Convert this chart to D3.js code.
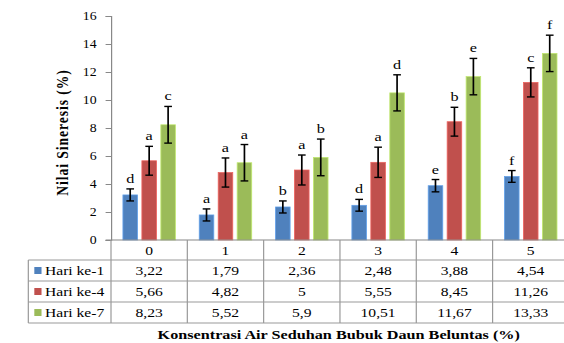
<!DOCTYPE html>
<html>
<head>
<meta charset="utf-8">
<script src="https://cdn.jsdelivr.net/npm/d3@7"></script>
<style>
  html, body { margin: 0; padding: 0; background: #fff; }
  svg { display: block; }
  text { font-family: "Liberation Serif", "Times New Roman", serif; fill: #000; }
</style>
</head>
<body>
<div id="chart"></div>
<script>
// chart values
var categories = ["0", "1", "2", "3", "4", "5"];
var seriesNames = ["Hari ke-1", "Hari ke-4", "Hari ke-7"];
var hari1 = [3.22, 1.79, 2.36, 2.48, 3.88, 4.54];
var hari4 = [5.66, 4.82, 5, 5.55, 8.45, 11.26];
var hari7 = [8.23, 5.52, 5.9, 10.51, 11.67, 13.33];
var err1 = [0.43, 0.43, 0.43, 0.42, 0.44, 0.42];
var err4 = [1.03, 1.04, 1.07, 1.08, 1.03, 1.04];
var err7 = [1.31, 1.3, 1.31, 1.29, 1.3, 1.3];
var letters1 = ["d", "a", "b", "d", "e", "f"];
var letters4 = ["a", "a", "a", "a", "b", "c"];
var letters7 = ["c", "a", "b", "d", "e", "f"];
var yTicks = [0, 2, 4, 6, 8, 10, 12, 14, 16];
var colors = ["#4F81BD", "#C0504D", "#9BBB59"];

var seriesValues = [hari1, hari4, hari7];
var seriesErr = [err1, err4, err7];
var seriesLetters = [letters1, letters4, letters7];

// the original picture is stretched sideways, so draw narrow and scale x
var svgWidth = 564;
var svgHeight = 343;
var stretch = 1.2;
var innerW = svgWidth / stretch;

var axisX = 92.5;
var bandW = 63.6;
var plotTop = 16;
var plotBottom = 240;
var rowH = 21;

var svg = d3.select("#chart")
  .append("svg")
    .attr("width", svgWidth)
    .attr("height", svgHeight)
    .attr("viewBox", `0 0 ${innerW} ${svgHeight}`)
    .attr("preserveAspectRatio", "none");

var x0 = d3.scaleBand()
  .domain(categories)
  .range([axisX, axisX + bandW * categories.length])
  .padding(0);

var groupW = 43.7;
var x1 = d3.scaleBand()
  .domain(seriesNames)
  .range([(bandW - groupW) / 2, (bandW + groupW) / 2])
  .paddingInner(0.234)
  .paddingOuter(0);

var y = d3.scaleLinear()
  .domain([0, 16])
  .range([plotBottom, plotTop]);

// rows of [category, series index]
var rows = [];
categories.forEach(function(c, i) {
  seriesNames.forEach(function(s, j) {
    rows.push({cat: c, s: s, j: j, v: seriesValues[j][i], e: seriesErr[j][i], l: seriesLetters[j][i]});
  });
});

// y axis
var leftAxis = d3.axisLeft(y).tickValues(yTicks).tickSize(4.5).tickPadding(7.5);
var yAxisG = svg.append("g")
  .attr("transform", `translate(${axisX}, 0)`)
  .call(leftAxis);
yAxisG.select(".domain").attr("stroke", "#888");
yAxisG.selectAll(".tick line").attr("stroke", "#888");
yAxisG.selectAll(".tick text")
  .attr("font-family", "Liberation Serif")
  .attr("font-size", "11.5px");

// bars
svg.append("g").selectAll("rect")
  .data(rows)
  .enter()
  .append("rect")
    .attr("x", d => x0(d.cat) + x1(d.s))
    .attr("y", d => y(d.v))
    .attr("width", x1.bandwidth())
    .attr("height", d => y(0) - y(d.v))
    .attr("fill", d => colors[d.j])
    .attr("stroke", d => d3.color(colors[d.j]).brighter(0.6))
    .attr("stroke-width", 0.7);

// error bars
var capW = 3.2;
var eb = svg.append("g").attr("stroke", "#000").attr("stroke-width", 1.4);
rows.forEach(function(d) {
  var cx = x0(d.cat) + x1(d.s) + x1.bandwidth() / 2;
  eb.append("line").attr("x1", cx).attr("x2", cx).attr("y1", y(d.v + d.e)).attr("y2", y(d.v - d.e));
  eb.append("line").attr("x1", cx - capW).attr("x2", cx + capW).attr("y1", y(d.v + d.e)).attr("y2", y(d.v + d.e));
  eb.append("line").attr("x1", cx - capW).attr("x2", cx + capW).attr("y1", y(d.v - d.e)).attr("y2", y(d.v - d.e));
});

// significance letters
svg.append("g").selectAll("text")
  .data(rows)
  .enter()
  .append("text")
    .attr("x", d => x0(d.cat) + x1(d.s) + x1.bandwidth() / 2)
    .attr("y", d => y(d.v + d.e) - 6)
    .attr("text-anchor", "middle")
    .attr("font-size", "13.5px")
    .text(d => d.l);

// data table
var tableRight = x0.range()[1];
var legendLeft = 23.6;
var tbl = svg.append("g").attr("stroke", "#999").attr("stroke-width", 1).attr("fill", "none");
var tableBottom = plotBottom + rowH * 4 - 1;

// horizontal lines
tbl.append("line").attr("x1", axisX - 4.5).attr("x2", tableRight).attr("y1", plotBottom).attr("y2", plotBottom).attr("stroke", "#888");
[1, 2, 3, 4].forEach(function(k) {
  var yy = plotBottom + 20 + rowH * (k - 1);
  if (k === 4) yy = tableBottom;
  tbl.append("line").attr("x1", legendLeft).attr("x2", tableRight).attr("y1", yy).attr("y2", yy);
});
// vertical lines
categories.forEach(function(c) {
  tbl.append("line").attr("x1", x0(c)).attr("x2", x0(c)).attr("y1", plotBottom).attr("y2", tableBottom);
});
tbl.append("line").attr("x1", tableRight).attr("x2", tableRight).attr("y1", plotBottom).attr("y2", tableBottom);
tbl.append("line").attr("x1", legendLeft).attr("x2", legendLeft).attr("y1", plotBottom + 20).attr("y2", tableBottom);

// header row: category labels
svg.append("g").selectAll("text")
  .data(categories)
  .enter()
  .append("text")
    .attr("x", d => x0(d) + bandW / 2)
    .attr("y", plotBottom + 15)
    .attr("text-anchor", "middle")
    .attr("font-size", "13px")
    .text(d => d);

// series rows
seriesNames.forEach(function(s, j) {
  var rowTop = plotBottom + 20 + rowH * j;
  svg.append("rect")
    .attr("x", 28.6)
    .attr("y", rowTop + 7)
    .attr("width", 6)
    .attr("height", 7)
    .attr("fill", colors[j]);
  svg.append("text")
    .attr("x", 37.5)
    .attr("y", rowTop + 15)
    .attr("font-size", "13px")
    .text(s);
  svg.append("g").selectAll("text")
    .data(seriesValues[j])
    .enter()
    .append("text")
      .attr("x", (d, i) => x0(categories[i]) + bandW / 2)
      .attr("y", rowTop + 15)
      .attr("text-anchor", "middle")
      .attr("font-size", "13px")
      .text(d => String(d).replace(".", ","));
});

// axis titles
svg.append("text")
  .attr("transform", `translate(56.5, 132.5) rotate(-90)`)
  .attr("text-anchor", "middle")
  .attr("font-size", "13.5px")
  .attr("font-weight", "bold")
  .attr("letter-spacing", "1px")
  .text("Nilai Sineresis (%)");

svg.append("text")
  .attr("x", (axisX + tableRight) / 2 - 1)
  .attr("y", 339)
  .attr("text-anchor", "middle")
  .attr("font-size", "13.5px")
  .attr("font-weight", "bold")
  .text("Konsentrasi Air Seduhan Bubuk Daun Beluntas (%)");
</script>
</body>
</html>
